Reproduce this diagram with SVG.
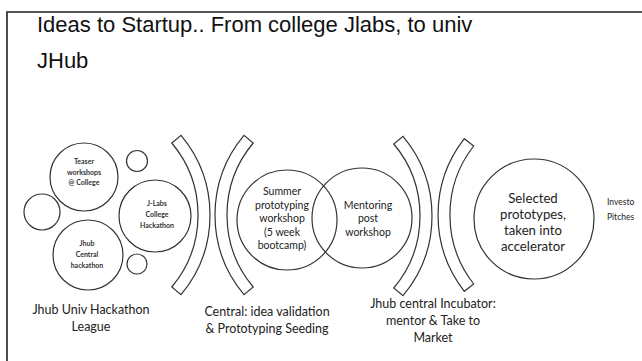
<svg xmlns="http://www.w3.org/2000/svg" width="642" height="361" viewBox="0 0 642 361">
<style>
.frame{fill:none;stroke:#222;stroke-width:1.6}
.c{fill:none;stroke:#333;stroke-width:1.2}
.band{fill:#fff;stroke:#333;stroke-width:1.2}
.title{font-family:"Liberation Sans",Arial,sans-serif;font-size:22px;fill:#111}
.s{font-family:Lato,"Open Sans",sans-serif;font-size:7px;font-weight:bold;fill:#333;text-anchor:middle}
.m{font-family:Lato,"Open Sans",sans-serif;font-size:10.5px;fill:#222;text-anchor:middle}
.l{font-family:Lato,"Open Sans",sans-serif;font-size:12.5px;fill:#222;text-anchor:middle}
.b{font-family:Lato,"Open Sans",sans-serif;font-size:13.2px;fill:#222;text-anchor:middle}
.x{font-family:Lato,"Open Sans",sans-serif;font-size:8.5px;fill:#222}
</style>
<rect width="642" height="361" fill="#fff"/>
<path class="frame" d="M7,361 L7,12 L642,12"/>
<g id="title">
<text class="title" x="37" y="32">Ideas to Startup.. From college Jlabs, to univ</text>
<text class="title" x="37" y="68">JHub</text>
</g>
<g id="connectors">
<path class="band" d="M181,135.3 A124 124 0 0 1 181,294.7 L171.8,287 A112 112 0 0 0 171.8,143 Z"/>
<path class="band" d="M244,135.3 A124 124 0 0 0 244,294.7 L253.2,287 A112 112 0 0 1 253.2,143 Z"/>
<path class="band" d="M403,136.3 A124 124 0 0 1 403,295.7 L393.8,288 A112 112 0 0 0 393.8,144 Z"/>
<path class="band" d="M464.3,138.7 A124 124 0 0 0 464.3,291.3 L473.7,284 A112 112 0 0 1 473.7,146 Z"/>
</g>
<g id="teaser">
<circle class="c" cx="84" cy="177" r="34"/>
<text class="s" x="84" y="164">Teaser</text>
<text class="s" x="84" y="175">workshops</text>
<text class="s" x="84" y="185">@ College</text>
</g>
<g id="small-top"><circle class="c" cx="137" cy="161" r="10.5"/></g>
<g id="small-left"><circle class="c" cx="42" cy="212" r="18"/></g>
<g id="jlabs">
<circle class="c" cx="155" cy="216" r="36"/>
<text class="s" x="157" y="206">J-Labs</text>
<text class="s" x="157" y="217">College</text>
<text class="s" x="157" y="228">Hackathon</text>
</g>
<g id="jhub-central">
<circle class="c" cx="88" cy="255" r="35"/>
<text class="s" x="87" y="246">Jhub</text>
<text class="s" x="87" y="257">Central</text>
<text class="s" x="87" y="268">hackathon</text>
</g>
<g id="small-bottom"><circle class="c" cx="137" cy="264" r="10"/></g>
<g id="league">
<text class="l" x="91" y="314">Jhub Univ Hackathon</text>
<text class="l" x="91" y="331">League</text>
</g>
<g id="summer">
<circle class="c" cx="287" cy="220" r="50"/>
<text class="m" x="282" y="195">Summer</text>
<text class="m" x="282" y="209">prototyping</text>
<text class="m" x="282" y="222">workshop</text>
<text class="m" x="282" y="236">(5 week</text>
<text class="m" x="282" y="249">bootcamp)</text>
</g>
<g id="mentoring">
<circle class="c" cx="362" cy="218" r="50"/>
<text class="m" x="368" y="209">Mentoring</text>
<text class="m" x="368" y="222">post</text>
<text class="m" x="368" y="236">workshop</text>
</g>
<g id="central">
<text class="l" x="267" y="316">Central: idea validation</text>
<text class="l" x="267" y="333">&amp; Prototyping Seeding</text>
</g>
<g id="selected">
<circle class="c" cx="534" cy="219" r="60"/>
<text class="b" x="533" y="203">Selected</text>
<text class="b" x="533" y="219">prototypes,</text>
<text class="b" x="533" y="235">taken into</text>
<text class="b" x="533" y="251">accelerator</text>
</g>
<g id="incubator">
<text class="l" x="433" y="308">Jhub central Incubator:</text>
<text class="l" x="433" y="325">mentor &amp; Take to</text>
<text class="l" x="433" y="342">Market</text>
</g>
<g id="investor">
<text class="x" x="607" y="205">Investo</text>
<text class="x" x="607" y="220">Pitches</text>
</g>
</svg>
